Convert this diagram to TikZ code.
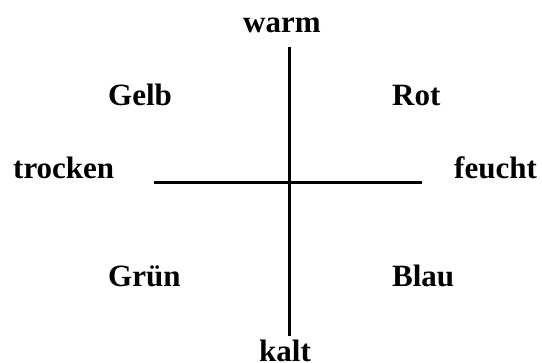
\documentclass[tikz,border=0pt]{standalone}
\usepackage{fontspec}
\setmainfont{Liberation Serif}
\begin{document}
\begin{tikzpicture}[x=1pt,y=-1pt,
  lbl/.style={anchor=base west,inner sep=0pt,font=\fontsize{31}{36}\selectfont\bfseries},
  axis/.style={line width=3pt}]
\useasboundingbox (0,0) rectangle (542,363);
\coordinate (top) at (289,47);
\coordinate (bot) at (289,336);
\coordinate (left) at (154,182.5);
\coordinate (right) at (422,182.5);
\draw[axis] (top) -- (bot);
\draw[axis] (left) -- (right);
\node[lbl] (warm) at (243,33) {warm};
\node[lbl] (kalt) at (259,362) {kalt};
\node[lbl] (trocken) at (13,179) {trocken};
\node[lbl] (feucht) at (454,179) {feucht};
\node[lbl] (gelb) at (108,106) {Gelb};
\node[lbl] (rot) at (392,106) {Rot};
\node[lbl] (gruen) at (108,287) {Grün};
\node[lbl] (blau) at (392,287) {Blau};
\end{tikzpicture}
\end{document}
